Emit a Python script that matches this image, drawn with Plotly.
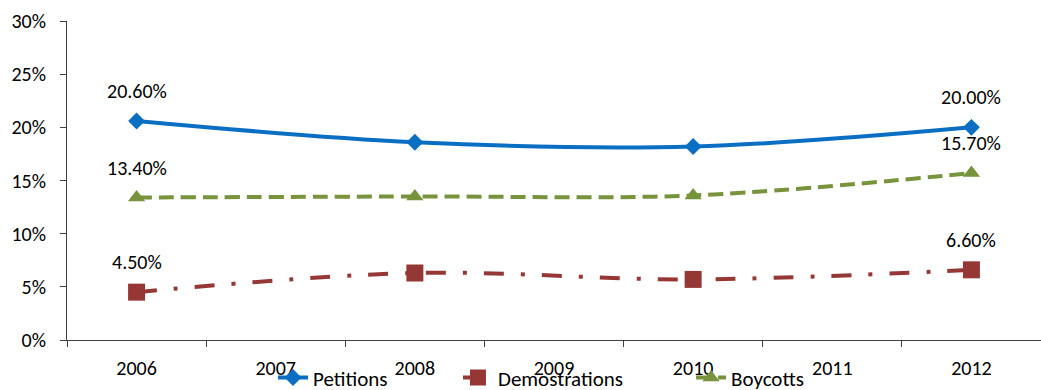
import plotly.graph_objects as go

PCT = chr(37)

years = ["2006", "2007", "2008", "2009", "2010", "2011", "2012"]
survey_years = ["2006", "2008", "2010", "2012"]
petitions = [20.6, 18.6, 18.2, 20.0]
demonstrations = [4.5, 6.3, 5.7, 6.6]
boycotts = [13.4, 13.5, 13.6, 15.7]
y_ticks = [0, 5, 10, 15, 20, 25, 30]

FONT = "Carlito, Lato, sans-serif"
FS = 20
series = [
    ("Petitions", petitions, "#0A6FC2", "solid", "diamond", 13, "legend", 0.2115),
    ("Demostrations", demonstrations, "#953735", "20px,17px,4px,17px", "square", 17, "legend2", 0.4014),
    ("Boycotts", boycotts, "#77933C", "15px,7px", "triangle-up", 15, "legend3", 0.6407),
]

fig = go.Figure()
annotations = []
legends = {}
for name, vals, color, dash, sym, msize, leg, legx in series:
    fig.add_trace(go.Scatter(
        x=survey_years, y=vals, name=name, mode="lines+markers",
        line=dict(color=color, width=4, dash=dash, shape="spline", smoothing=1),
        marker=dict(symbol=sym, size=msize, color=color),
        legend=leg,
    ))
    legends[leg] = dict(
        orientation="h", x=legx, xanchor="left", y=0.031, yanchor="middle",
        yref="container",
        font=dict(family=FONT, size=21, color="#000"), itemwidth=30,
        bgcolor="rgba(0,0,0,0)",
    )
    for i in (0, len(vals) - 1):
        annotations.append(dict(
            x=years.index(survey_years[i]), y=vals[i], xref="x", yref="y",
            text=f"{vals[i]:.2f}" + PCT, showarrow=False, yshift=30,
            font=dict(family=FONT, size=FS, color="#000"),
        ))

axis_color = "#404040"
fig.update_layout(
    width=1041, height=390,
    margin=dict(l=67, r=0, t=21, b=50),
    plot_bgcolor="white", paper_bgcolor="white",
    font=dict(family=FONT, size=FS, color="#000"),
    xaxis=dict(
        type="category", categoryorder="array", categoryarray=years,
        range=[-0.5, 6.5], showgrid=False, zeroline=False,
        showline=True, linecolor=axis_color, linewidth=1,
        ticks="outside", ticklen=6, tickcolor=axis_color, tickson="boundaries",
        ticklabelstandoff=10, automargin=False,
        tickfont=dict(family=FONT, size=FS),
    ),
    xaxis2=dict(
        type="linear", range=[-0.5, 6.5], overlaying="x", anchor="y", side="bottom",
        showgrid=False, zeroline=False, showline=False,
        tickmode="array", tickvals=[i - 0.5 for i in range(len(years) + 1)],
        ticks="inside", ticklen=6, tickcolor=axis_color,
        showticklabels=False, automargin=False,
    ),
    yaxis=dict(
        range=[0, 30], tickmode="array", tickvals=y_ticks,
        ticktext=[f"{v}{PCT}" for v in y_ticks],
        showgrid=False, zeroline=False,
        showline=True, linecolor=axis_color, linewidth=1,
        ticks="outside", ticklen=6, tickcolor=axis_color,
        ticklabelstandoff=10, automargin=False,
        tickfont=dict(family=FONT, size=FS),
    ),
    annotations=annotations,
    showlegend=True,
    **legends,
)

fig.write_html("out.html")
